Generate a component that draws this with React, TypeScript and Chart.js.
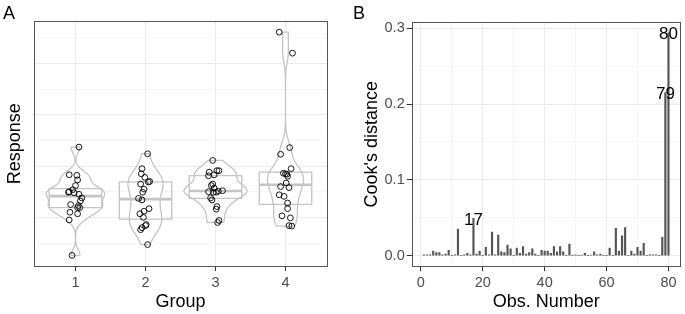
import React, { useEffect, useRef } from 'react';
import { Chart, registerables } from 'chart.js';

Chart.register(...registerables);

const FONT = '"Liberation Sans", Arial, Helvetica, sans-serif';

// ---------- Panel A data ----------
const groupLabels = ['1', '2', '3', '4'];
const resp1 = [2.37, 1.83, 1.82, 1.73, 1.62, 1.54, 1.5, 1.49, 1.45, 1.38, 1.32, 1.25, 1.23, 1.19, 1.1, 1.07, 0.95, 0.26, 1.48, 1.19];
const jit1 = [0.05, -0.09, 0.02, 0.03, 0.0, -0.04, -0.09, -0.1, 0.05, 0.09, 0.07, -0.07, 0.04, 0.03, -0.08, 0.03, -0.09, -0.05, -0.02, 0.06];
const resp2 = [2.24, 1.95, 1.85, 1.78, 1.69, 1.7, 1.65, 1.55, 1.49, 1.37, 1.34, 1.17, 1.12, 1.07, 1.0, 0.84, 0.8, 0.76, 0.86, 0.47];
const jit2 = [0.03, -0.05, -0.06, -0.01, 0.04, 0.06, -0.07, -0.02, -0.04, -0.1, -0.05, 0.05, -0.02, -0.08, -0.03, 0.0, -0.05, -0.07, 0.01, 0.03];
const resp3 = [2.11, 1.88, 1.91, 1.91, 1.81, 1.83, 1.65, 1.57, 1.5, 1.49, 1.49, 1.51, 1.52, 1.38, 1.34, 1.21, 1.16, 0.94, 0.9, 1.62];
const jit3 = [-0.04, -0.09, 0.02, 0.05, -0.1, -0.02, -0.04, -0.02, -0.1, -0.03, 0.01, 0.04, 0.1, -0.07, -0.05, 0.02, 0.01, 0.05, 0.03, -0.06];
const resp4 = [4.61, 4.2, 2.36, 2.23, 1.95, 1.86, 1.85, 1.84, 1.8, 1.67, 1.6, 1.58, 1.44, 1.41, 1.28, 1.17, 1.03, 0.99, 0.84, 0.83];
const jit4 = [-0.09, 0.1, 0.06, -0.07, 0.08, -0.03, 0.0, 0.02, 0.03, 0.01, -0.07, 0.05, -0.09, -0.02, 0.03, 0.03, -0.05, 0.07, 0.05, 0.09];
const responses = [resp1, resp2, resp3, resp4];
const jitters = [jit1, jit2, jit3, jit4];

// ---------- Panel B data ----------
const cooksD = [
  0.001, 0.001, 0.001, 0.006, 0.004, 0.004, 0.001, 0.002, 0.007, 0.0,
  0.001, 0.035, 0.0, 0.001, 0.003, 0.001, 0.049, 0.002, 0.006, 0.0,
  0.011, 0.001, 0.031, 0.001, 0.027, 0.005, 0.004, 0.014, 0.009, 0.0,
  0.01, 0.003, 0.012, 0.002, 0.004, 0.009, 0.002, 0.0, 0.007, 0.006,
  0.006, 0.003, 0.012, 0.005, 0.012, 0.005, 0.0, 0.015, 0.0, 0.001,
  0.0, 0.0005, 0.003, 0.0, 0.0005, 0.005, 0.001, 0.002, 0.0, 0.0,
  0.01, 0.0, 0.036, 0.006, 0.026, 0.037, 0.0, 0.006, 0.002, 0.011,
  0.006, 0.016, 0.0, 0.001, 0.001, 0.001, 0.0, 0.024, 0.215, 0.294,
];
const nLabelled = 3;
const xTicksB = [0, 20, 40, 60, 80];
const yTicksB = [0, 0.1, 0.2, 0.3];

// ---------- styling ----------
const GRID = '#ebebeb';
const BORDER = '#555555';
const TICKCOL = '#4d4d4d';
const VIOLIN = '#c4c4c4';
const VIOLIN_WIDTH = 0.9;
const BOX_WIDTH = 0.75;
const BW_ADJUST = 0.8;

// ---------- stats helpers ----------
function quantile7(sorted: number[], p: number) {
  const h = (sorted.length - 1) * p;
  const lo = Math.floor(h);
  const hi = Math.ceil(h);
  return sorted[lo] + (h - lo) * (sorted[hi] - sorted[lo]);
}
function sdev(a: number[]) {
  const m = a.reduce((s, v) => s + v, 0) / a.length;
  return Math.sqrt(a.reduce((s, v) => s + (v - m) * (v - m), 0) / (a.length - 1));
}
function bwNrd0(a: number[]) {
  const s = [...a].sort((p, q) => p - q);
  const hi = sdev(a);
  const iqr = quantile7(s, 0.75) - quantile7(s, 0.25);
  let lo = Math.min(hi, iqr / 1.34);
  if (!lo) lo = hi || 1;
  return 0.9 * lo * Math.pow(a.length, -0.2);
}
function kde(a: number[], n = 512) {
  const bw = bwNrd0(a) * BW_ADJUST;
  const mn = Math.min(...a);
  const mx = Math.max(...a);
  const ys: number[] = [];
  const ds: number[] = [];
  for (let i = 0; i < n; i++) {
    const g = mn + ((mx - mn) * i) / (n - 1);
    let s = 0;
    for (const v of a) {
      const z = (g - v) / bw;
      s += Math.exp(-0.5 * z * z);
    }
    ys.push(g);
    ds.push(s / (a.length * bw * Math.sqrt(2 * Math.PI)));
  }
  return { ys, ds };
}

const isMult = (v: number, step: number) => Math.abs(v / step - Math.round(v / step)) < 1e-6;

const panelBorder = (letter: string, lx: number) => ({
  id: 'panelBorder' + letter,
  afterDraw(chart: any) {
    const { ctx, chartArea: a } = chart;
    ctx.save();
    ctx.strokeStyle = BORDER;
    ctx.lineWidth = 1;
    ctx.strokeRect(Math.round(a.left) + 0.5, Math.round(a.top) + 0.5, Math.round(a.right - a.left) - 1, Math.round(a.bottom - a.top) - 1);
    ctx.fillStyle = '#000';
    ctx.font = `18px ${FONT}`;
    ctx.textBaseline = 'alphabetic';
    ctx.textAlign = 'left';
    ctx.fillText(letter, lx, 18.5);
    ctx.restore();
  },
});

const violinPlugin = {
  id: 'violins',
  beforeDatasetsDraw(chart: any) {
    const { ctx, scales } = chart;
    const x = scales.x;
    const y = scales.y;
    const dens = responses.map((r) => kde(r));
    const maxD = Math.max(...dens.map((d) => Math.max(...d.ds)));
    ctx.save();
    dens.forEach((d, gi) => {
      const cx = gi + 1;
      ctx.beginPath();
      for (let i = 0; i < d.ys.length; i++) {
        const px = x.getPixelForValue(cx + (d.ds[i] / maxD) * VIOLIN_WIDTH / 2);
        const py = y.getPixelForValue(d.ys[i]);
        if (i === 0) ctx.moveTo(px, py);
        else ctx.lineTo(px, py);
      }
      for (let i = d.ys.length - 1; i >= 0; i--) {
        ctx.lineTo(x.getPixelForValue(cx - (d.ds[i] / maxD) * VIOLIN_WIDTH / 2), y.getPixelForValue(d.ys[i]));
      }
      ctx.closePath();
      ctx.fillStyle = '#ffffff';
      ctx.fill();
      ctx.strokeStyle = VIOLIN;
      ctx.lineWidth = 1.3;
      ctx.lineJoin = 'round';
      ctx.stroke();
    });
    responses.forEach((r, gi) => {
      const s = [...r].sort((p, q) => p - q);
      const q1 = quantile7(s, 0.25);
      const med = quantile7(s, 0.5);
      const q3 = quantile7(s, 0.75);
      const xl = x.getPixelForValue(gi + 1 - BOX_WIDTH / 2);
      const xr = x.getPixelForValue(gi + 1 + BOX_WIDTH / 2);
      const yt = y.getPixelForValue(q3);
      const yb = y.getPixelForValue(q1);
      const ym = y.getPixelForValue(med);
      ctx.strokeStyle = VIOLIN;
      ctx.lineWidth = 1.3;
      ctx.strokeRect(xl, yt, xr - xl, yb - yt);
      ctx.lineWidth = 2.6;
      ctx.beginPath();
      ctx.moveTo(xl, ym);
      ctx.lineTo(xr, ym);
      ctx.stroke();
    });
    ctx.restore();
  },
};

const labelPlugin = {
  id: 'cookLabels',
  afterDatasetsDraw(chart: any) {
    const { ctx, scales } = chart;
    const idx = cooksD.map((v, i) => i).sort((a, b) => cooksD[b] - cooksD[a]).slice(0, nLabelled);
    ctx.save();
    ctx.fillStyle = '#000';
    ctx.font = `17px ${FONT}`;
    ctx.textAlign = 'center';
    ctx.textBaseline = 'middle';
    idx.forEach((i) => {
      ctx.fillText(String(i + 1), scales.x.getPixelForValue(i + 1), scales.y.getPixelForValue(cooksD[i]) + 1.5);
    });
    ctx.restore();
  },
};

export default function App() {
  const refA = useRef<HTMLCanvasElement>(null);
  const refB = useRef<HTMLCanvasElement>(null);

  useEffect(() => {
    Chart.defaults.font.family = FONT;
    const allResp = responses.flat();
    const rMin = Math.min(...allResp);
    const rMax = Math.max(...allResp);
    const rExp = (rMax - rMin) * 0.05;

    const chartA = new Chart(refA.current as HTMLCanvasElement, {
      type: 'scatter',
      data: {
        datasets: responses.map((r, gi) => ({
          data: r.map((v, i) => ({ x: gi + 1 + jitters[gi][i], y: v })),
          pointRadius: 2.9,
          pointBorderWidth: 0.9,
          pointBorderColor: '#000000',
          pointBackgroundColor: 'rgba(0,0,0,0)',
          pointHoverRadius: 2.9,
        })),
      },
      options: {
        animation: false,
        responsive: false,
        devicePixelRatio: 1,
        events: [],
        layout: { padding: { left: 0, top: 21, right: 12.5, bottom: 0 } },
        plugins: { legend: { display: false }, tooltip: { enabled: false } },
        scales: {
          x: {
            type: 'linear',
            min: 0.4,
            max: 4.6,
            border: { display: false },
            grid: { color: GRID, lineWidth: 1, tickColor: '#333333', tickWidth: 1, tickLength: 4.5 },
            ticks: {
              stepSize: 1,
              includeBounds: false,
              autoSkip: false,
              maxRotation: 0,
              padding: 3,
              color: TICKCOL,
              font: { size: 14.5 },
              callback: (v: any) => groupLabels[Math.round(Number(v)) - 1] ?? '',
            },
            title: { display: true, text: 'Group', color: '#000', font: { size: 18 }, padding: { top: 0, bottom: 1.5 } },
            afterFit: (s: any) => { s.height = 47.5; },
          },
          y: {
            type: 'linear',
            min: rMin - rExp,
            max: rMax + rExp,
            border: { display: false },
            grid: {
              color: GRID,
              drawTicks: false,
              lineWidth: (c: any) => (isMult(c.tick.value, 1) ? 1 : 0.5),
            },
            ticks: { stepSize: 0.5, includeBounds: false, display: false },
            title: { display: true, text: 'Response', color: '#000', font: { size: 18 }, padding: { top: 4.2, bottom: 0 } },
            afterFit: (s: any) => { s.width = 33.5; },
          },
        },
      },
      plugins: [violinPlugin, panelBorder('A', 3)],
    } as any);

    const yMaxB = Math.max(...cooksD);
    const chartB = new Chart(refB.current as HTMLCanvasElement, {
      type: 'bar',
      data: {
        datasets: [
          {
            data: cooksD.map((v, i) => ({ x: i + 1, y: v })),
            backgroundColor: '#555555',
            borderWidth: 0,
            barThickness: 1.5,
          },
        ],
      },
      options: {
        animation: false,
        responsive: false,
        devicePixelRatio: 1,
        events: [],
        layout: { padding: { left: 0, top: 21.7, right: 4.3, bottom: 0 } },
        plugins: { legend: { display: false }, tooltip: { enabled: false } },
        scales: {
          x: {
            type: 'linear',
            offset: false,
            min: 1 - 79 * 0.05,
            max: 80 + 79 * 0.05,
            border: { display: false },
            grid: {
              offset: false,
              color: GRID,
              lineWidth: (c: any) => (isMult(c.tick.value, 20) ? 1 : 0.5),
              tickColor: (c: any) => (xTicksB.some((t) => Math.abs(t - c.tick.value) < 1e-6) ? '#333333' : 'rgba(0,0,0,0)'),
              tickWidth: 1,
              tickLength: 4.5,
            },
            ticks: {
              stepSize: 10,
              includeBounds: false,
              autoSkip: false,
              maxRotation: 0,
              padding: 3,
              color: TICKCOL,
              font: { size: 14.5 },
              callback: (v: any) => (xTicksB.some((t) => Math.abs(t - Number(v)) < 1e-6) ? String(Math.round(Number(v))) : ''),
            },
            title: { display: true, text: 'Obs. Number', color: '#000', font: { size: 18 }, padding: { top: 0, bottom: 1.5 } },
            afterFit: (s: any) => { s.height = 47.3; },
          },
          y: {
            type: 'linear',
            min: -0.05 * yMaxB,
            max: 1.05 * yMaxB,
            border: { display: false },
            grid: {
              color: GRID,
              lineWidth: (c: any) => (isMult(c.tick.value, 0.1) ? 1 : 0.5),
              tickColor: (c: any) => (yTicksB.some((t) => Math.abs(t - c.tick.value) < 1e-6) ? '#333333' : 'rgba(0,0,0,0)'),
              tickWidth: 1,
              tickLength: 5,
            },
            ticks: {
              stepSize: 0.05,
              includeBounds: false,
              autoSkip: false,
              padding: 2,
              color: TICKCOL,
              font: { size: 14.5 },
              callback: (v: any) => {
                const t = yTicksB.find((q) => Math.abs(q - Number(v)) < 1e-6);
                return t === undefined ? '' : t.toFixed(1);
              },
            },
            title: { display: true, text: "Cook's distance", color: '#000', font: { size: 18 }, padding: { top: 20.9, bottom: 0 } },
            afterFit: (s: any) => { s.width = 71.7; },
          },
        },
      },
      plugins: [labelPlugin, panelBorder('B', 13)],
    } as any);

    return () => {
      chartA.destroy();
      chartB.destroy();
    };
  }, []);

  return (
    <div style={{ position: 'absolute', left: 0, top: 0, width: 685, height: 314, background: '#ffffff' }}>
      <canvas ref={refA} width={340} height={314} style={{ position: 'absolute', left: 0, top: 0, width: 340, height: 314 }} />
      <canvas ref={refB} width={345} height={314} style={{ position: 'absolute', left: 340, top: 0, width: 345, height: 314 }} />
    </div>
  );
}
